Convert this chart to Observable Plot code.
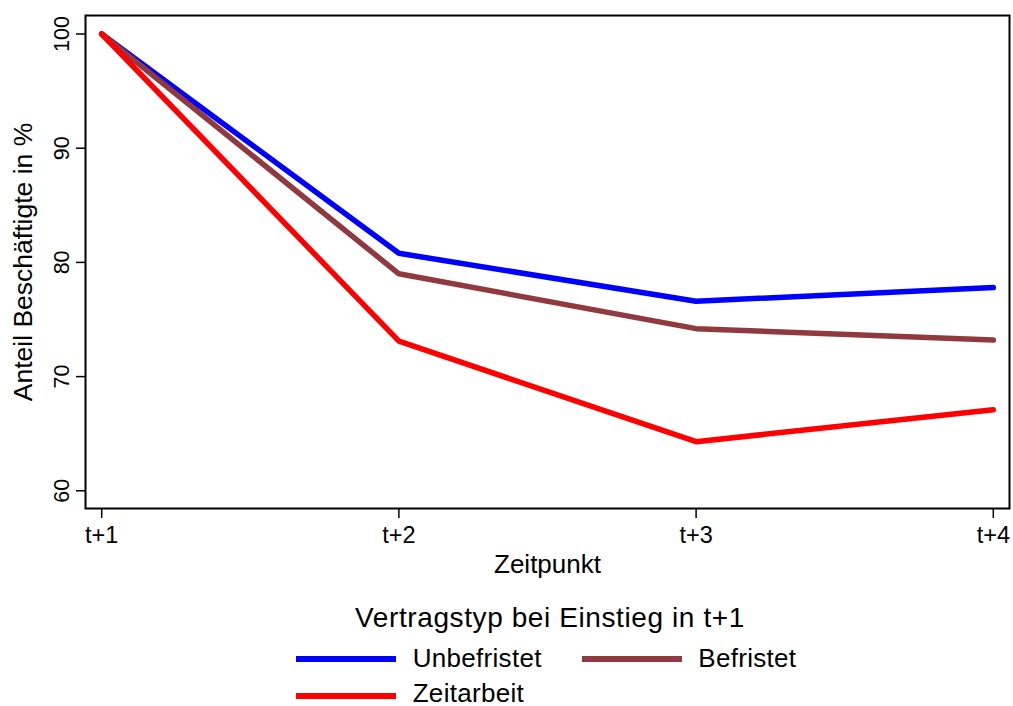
<!DOCTYPE html>
<html>
<head>
<meta charset="utf-8">
<script src="https://cdn.jsdelivr.net/npm/d3@7"></script>
<script src="https://cdn.jsdelivr.net/npm/@observablehq/plot@0.6"></script>
<style>
  html, body { margin: 0; padding: 0; background: #fff; }
  body { font-family: "Liberation Sans", Arial, sans-serif; color: #000; width: 1013px; }
  #legend { position: relative; width: 1013px; height: 126px; }
  #legend .t { position: absolute; line-height: 0.9; white-space: nowrap; }
  #legend .sw { position: absolute; height: 6px; width: 100px; }
</style>
</head>
<body>
<div id="chart"></div>
<div id="legend"></div>
<script>
const timepoints = [1, 2, 3, 4];
const tickLabels = ["t+1", "t+2", "t+3", "t+4"];
const seriesNames = ["Unbefristet", "Befristet", "Zeitarbeit"];
const seriesColors = ["#0000ff", "#903a40", "#ff0000"];
const unbefristet = [100, 80.8, 76.6, 77.8];
const befristet = [100, 79.0, 74.2, 73.2];
const zeitarbeit = [100, 73.1, 64.3, 67.1];
const yTicks = [60, 70, 80, 90, 100];
const xTitle = "Zeitpunkt";
const yTitle = "Anteil Beschäftigte in %";
const legendTitle = "Vertragstyp bei Einstieg in t+1";

const seriesValues = [unbefristet, befristet, zeitarbeit];
const rows = [];
seriesNames.forEach((s, i) => {
  timepoints.forEach((t, j) => rows.push({series: s, t, value: seriesValues[i][j]}));
});

const chart = Plot.plot({
  width: 1013,
  height: 580,
  marginLeft: 85,
  marginRight: 4,
  marginTop: 15,
  marginBottom: 72,
  style: {fontFamily: "'Liberation Sans', Arial, sans-serif", background: "#fff", color: "#000"},
  x: {type: "linear", domain: [0.9455, 4.0545]},
  y: {domain: [58.45, 101.62]},
  color: {domain: seriesNames, range: seriesColors},
  marks: [
    Plot.axisX(timepoints, {
      tickSize: 10, tickPadding: 8, fontSize: 23.5, strokeWidth: 1.5,
      tickFormat: (d) => tickLabels[timepoints.indexOf(d)], label: null
    }),
    Plot.axisY(yTicks, {
      tickSize: 9, tickPadding: 8, fontSize: 21.5, tickRotate: -90, strokeWidth: 1.5, label: null
    }),
    Plot.text([xTitle], {frameAnchor: "bottom", lineAnchor: "top", dy: 46, fontSize: 26, text: (d) => d}),
    Plot.text([yTitle], {frameAnchor: "left", rotate: -90, textAnchor: "middle", lineAnchor: "middle", dx: -62, fontSize: 26.5, text: (d) => d}),
    Plot.line(rows, {
      x: "t", y: "value", z: "series", stroke: "series",
      strokeWidth: 5.5, strokeLinecap: "round", strokeLinejoin: "miter"
    }),
    Plot.frame({stroke: "#000", strokeWidth: 2})
  ]
});
document.getElementById("chart").appendChild(chart);

// Legend below the SVG
const legend = document.getElementById("legend");
function addText(txt, left, top, size, spacing, center) {
  const el = document.createElement("div");
  el.className = "t";
  el.textContent = txt;
  el.style.left = left + "px";
  el.style.top = top + "px";
  el.style.fontSize = size + "px";
  el.style.letterSpacing = spacing + "px";
  if (center) el.style.transform = "translateX(-50%)";
  legend.appendChild(el);
}
function addSwatch(color, left, top) {
  const el = document.createElement("div");
  el.className = "sw";
  el.style.background = color;
  el.style.left = left + "px";
  el.style.top = top + "px";
  legend.appendChild(el);
}
addText(legendTitle, 550, 25, 28, 0.6, true);
const legendSlots = [
  {sx: 296, sy: 75.7, tx: 412.7, ty: 67},
  {sx: 581.7, sy: 76, tx: 698.3, ty: 67},
  {sx: 296, sy: 112.7, tx: 412.7, ty: 102}
];
seriesNames.forEach((s, i) => {
  const p = legendSlots[i];
  addSwatch(seriesColors[i], p.sx, p.sy);
  addText(s, p.tx, p.ty, 26, 0.3, false);
});
</script>
</body>
</html>
